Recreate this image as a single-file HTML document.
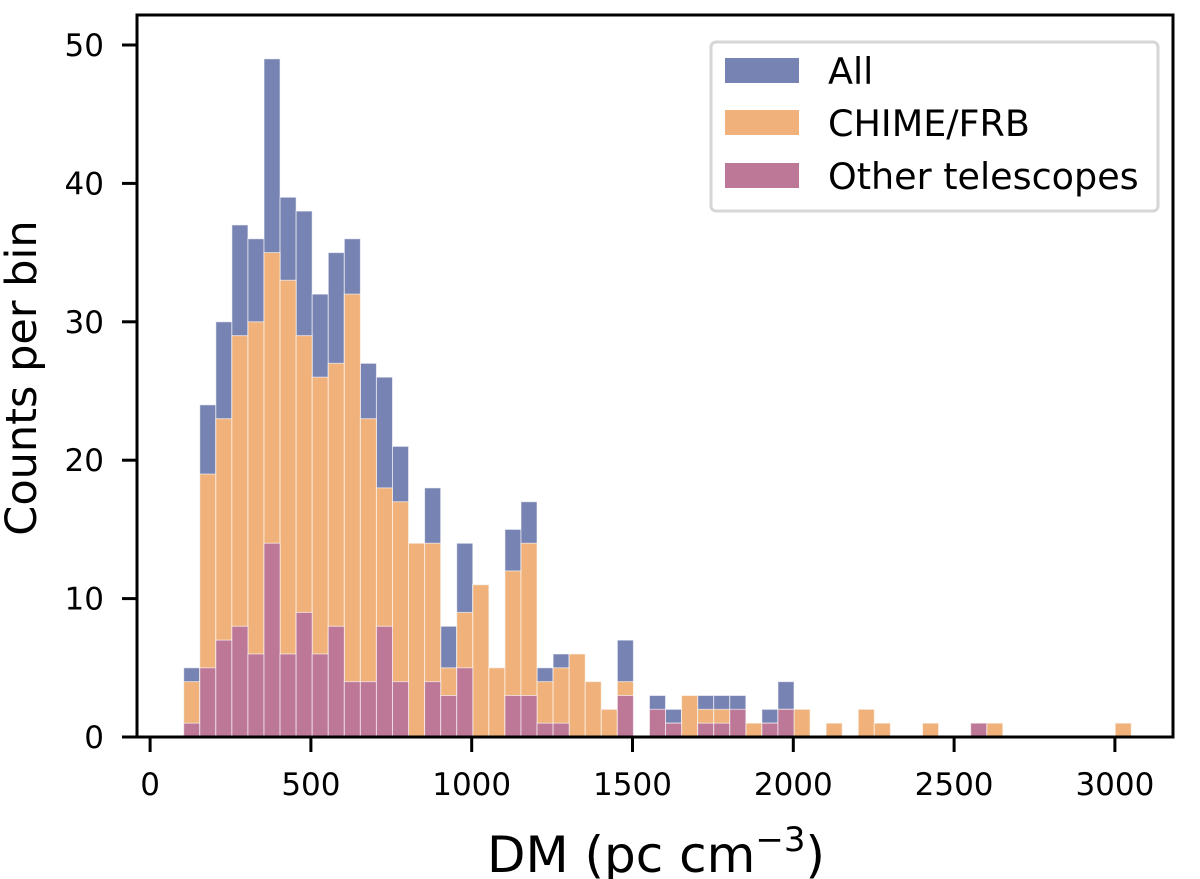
<!DOCTYPE html>
<html><head><meta charset="utf-8"><style>
body{margin:0;background:#fff;}
svg{display:block;font-family:"DejaVu Sans","Liberation Sans",sans-serif;}
</style></head><body>
<svg id="chart" width="1200" height="879" viewBox="0 0 1200 879" xmlns="http://www.w3.org/2000/svg">
<g id="bars"></g>
<g id="axes"></g>
<g>
<rect x="711" y="42" width="447" height="169" rx="5" fill="#fff" fill-opacity="0.8" stroke="#d6d6d6" stroke-width="3"/>
<rect x="725" y="58" width="74" height="25" fill="#7783b2"/>
<text x="828" y="84" font-size="36.5">All</text>
<rect x="725" y="110" width="74" height="25" fill="#f0b27a"/>
<text x="828" y="136" font-size="36.5">CHIME/FRB</text>
<rect x="725" y="163" width="74" height="25" fill="#bd7898"/>
<text x="828" y="189" font-size="36.5">Other telescopes</text>
</g>
<text x="656" y="872" font-size="50" text-anchor="middle">DM (pc cm<tspan font-size="34" dy="-21">−3</tspan><tspan dy="21">)</tspan></text>
<text transform="translate(36,378) rotate(-90)" font-size="43" text-anchor="middle">Counts per bin</text>
</svg>
<script>
const binStart = 104.5;
const binWidth = 49.94;
const allCounts = [5,24,30,37,36,49,39,38,32,35,36,27,26,21,14,18,8,14,11,5,15,17,5,6,6,4,2,7,0,3,2,3,3,3,3,1,2,4,2,0,1,0,2,1,0,0,1,0,0,1,1,0,0,0,0,0,0,0,1];
const chimeCounts = [4,19,23,29,30,35,33,29,26,27,32,23,18,17,14,14,5,9,11,5,12,14,4,5,6,4,2,4,0,1,1,3,2,2,1,1,1,2,2,0,1,0,2,1,0,0,1,0,0,1,1,0,0,0,0,0,0,0,1];
const otherCounts = [1,5,7,8,6,14,6,9,6,8,4,4,8,4,0,4,3,5,0,0,3,3,1,1,0,0,0,3,0,2,1,0,1,1,2,0,1,2,0,0,0,0,0,0,0,0,0,0,0,1,0,0,0,0,0,0,0,0,0];
const xTicks = [0,500,1000,1500,2000,2500,3000];
const yTicks = [0,10,20,30,40,50];

const L=137,R=1173,T=15,B=737;
const x0=150.1, xs=0.3216;
const X = v => x0 + v*xs;
const Y = v => B - v*13.84;
const NS="http://www.w3.org/2000/svg";
const bars=document.getElementById('bars'), axes=document.getElementById('axes');
function mk(tag,attrs,parent){const e=document.createElementNS(NS,tag);for(const k in attrs)e.setAttribute(k,attrs[k]);parent.appendChild(e);return e;}
function series(arr,color,name){
  arr.forEach((v,i)=>{
    if(!v) return;
    const xa=X(binStart+i*binWidth), xb=X(binStart+(i+1)*binWidth);
    const r=mk('rect',{x:xa,y:Y(v),width:xb-xa,height:Y(0)-Y(v),fill:color,stroke:'#fff','stroke-opacity':0.6,'stroke-width':1},bars);
    
    
  });
}
series(allCounts,'#7783b2','all');
series(chimeCounts,'#f0b27a','chime');
series(otherCounts,'#bd7898','other');
const frame=mk('rect',{x:L,y:T,width:R-L,height:B-T,fill:'none',stroke:'#000','stroke-width':3},axes);


xTicks.forEach(t=>{
  const g=mk('g',{},axes);
  
  
  mk('line',{x1:X(t),x2:X(t),y1:B,y2:B+15,stroke:'#000','stroke-width':3},g);
  const tx=mk('text',{x:X(t),y:795,'font-size':31,'text-anchor':'middle'},g);
  tx.textContent=t;
});
yTicks.forEach(t=>{
  const g=mk('g',{},axes);
  
  
  mk('line',{x1:L-15,x2:L,y1:Y(t),y2:Y(t),stroke:'#000','stroke-width':3},g);
  const tx=mk('text',{x:L-33,y:Y(t)+11,'font-size':31,'text-anchor':'end'},g);
  tx.textContent=t;
});
</script>
</body></html>
